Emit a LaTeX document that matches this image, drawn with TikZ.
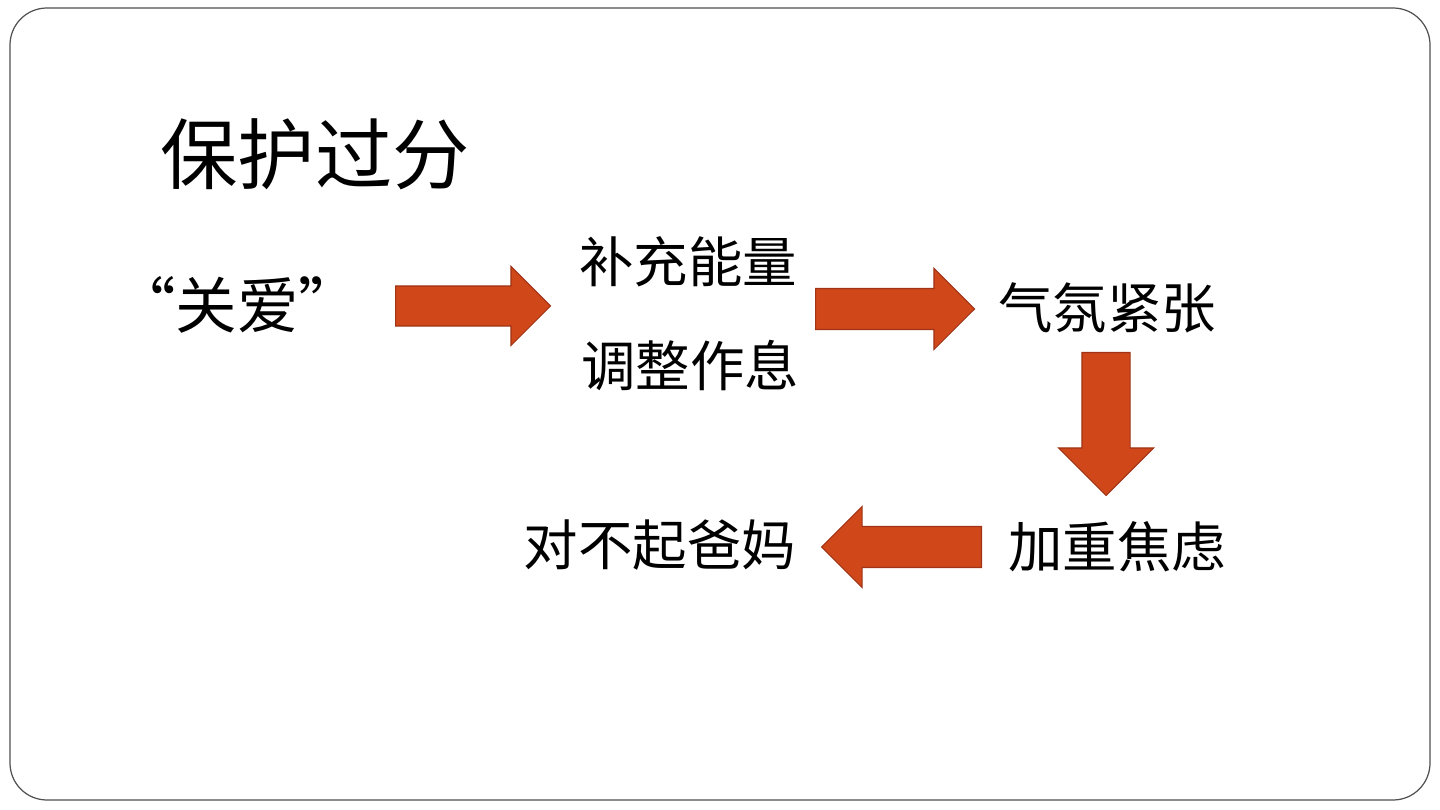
\documentclass[tikz,border=0pt]{standalone}
\usepackage{fontspec}
\newfontfamily\cjk{Noto Sans CJK SC}
\usetikzlibrary{shapes.arrows}
\definecolor{arrowfill}{RGB}{208,72,26}
\definecolor{arrowedge}{RGB}{160,52,22}
\definecolor{frameline}{RGB}{80,80,80}

\begin{document}
\begin{tikzpicture}[
    x=0.02cm, y=-0.02cm,
    every node/.style={font=\cjk\fontsize{31pt}{36pt}\selectfont, inner sep=0pt},
    title/.style={font=\cjk\fontsize{44pt}{50pt}\selectfont},
    quote/.style={font=\cjk\fontsize{35pt}{40pt}\selectfont},
    blockarrow/.style={single arrow, draw=arrowedge, fill=arrowfill, line width=0.6pt, anchor=tail, inner sep=#1, single arrow head extend=#1}
]

% Rahmen
\useasboundingbox (0,0) rectangle (1440,810);
\draw[frameline, line width=0.7pt, rounded corners=0.74cm] (10,8) rectangle (1430,800);

% Texte
\node[title] (title) at (315,154) {保护过分};
\node[quote] (care) at (237,305) {“关爱”};
\node (energy) at (688,262) {补充能量};
\node (rest) at (690,366) {调整作息};
\node (tense) at (1107,308) {气氛紧张};
\node (anxiety) at (1117,547) {加重焦虑};
\node (sorry) at (660,545) {对不起爸妈};

% Pfeile
\node[blockarrow=0.39cm, minimum height=3.1cm] (arr1) at (395,306) {};
\node[blockarrow=0.40cm, minimum height=3.18cm] (arr2) at (815,309) {};
\node[blockarrow=0.47cm, minimum height=2.86cm, rotate=-90] (arr3) at (1106,352) {};
\node[blockarrow=0.40cm, minimum height=3.2cm, rotate=180] (arr4) at (982,547) {};

\end{tikzpicture}
\end{document}
